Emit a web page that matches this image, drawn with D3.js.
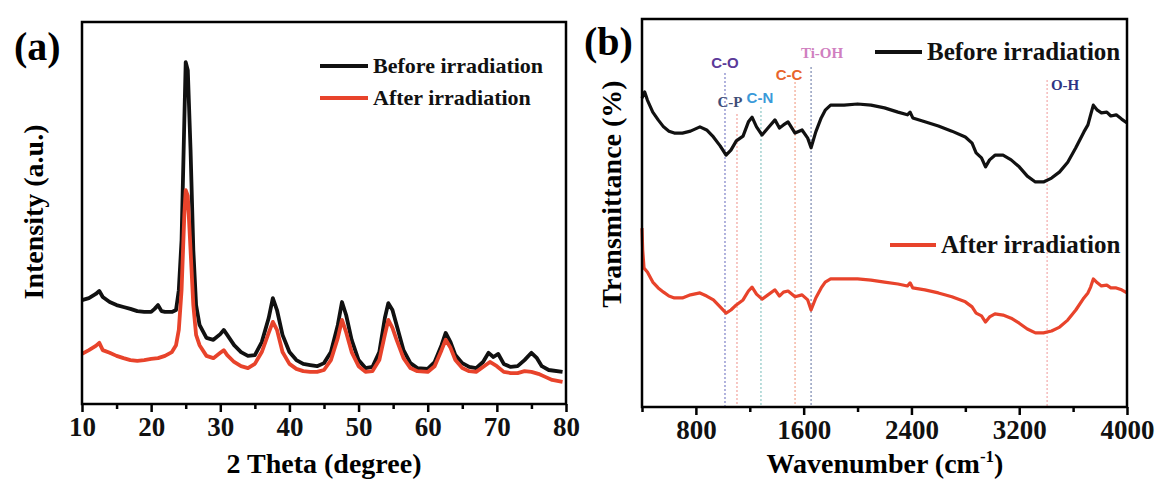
<!DOCTYPE html>
<html>
<head>
    <meta charset="utf-8">
    <script src="https://cdnjs.cloudflare.com/ajax/libs/d3/7.8.5/d3.min.js"></script>
    <style>
        body { margin: 0; background: #ffffff; }
        svg { display: block; }
        .serif { font-family: "Times New Roman", "Liberation Serif", serif; font-weight: bold; }
        .axis path, .axis line { stroke: #000; stroke-width: 2.5px; }
        .axis text { font-family: "Times New Roman", "Liberation Serif", serif; font-weight: bold; font-size: 27px; fill: #111; }
    </style>
    <title>XRD and FTIR</title>
</head>
<body>
<script>
    // ---------- (a) XRD data: [2 theta, intensity a.u.] ----------
    var xrdBefore = [
        [10, 27.2], [11, 27.7], [12, 28.8], [12.5, 29.6], [13, 28.0], [14, 26.7], [15, 25.9], [16, 25.4],
        [17, 24.9], [18, 24.3], [19, 24.1], [20, 24.1], [20.5, 24.9], [21, 25.9], [21.5, 24.3], [22, 24.1],
        [23, 24.1], [23.6, 24.6], [24.0, 29.8], [24.4, 42.9], [24.8, 74.3], [25.0, 89.5], [25.3, 87.4],
        [25.7, 66.5], [26.1, 40.3], [26.5, 25.9], [27, 20.7], [28, 17.3], [29, 16.8], [30, 18.3], [30.5, 19.4],
        [31, 18.1], [32, 15.4], [33, 13.6], [34, 12.6], [35, 12.8], [36, 16.2], [37, 22.5], [37.6, 27.7],
        [38.2, 24.6], [39, 18.1], [40, 13.6], [41, 11.5], [42, 10.5], [43, 10.2], [44, 9.9], [45, 10.7],
        [46, 13.6], [47, 20.7], [47.6, 26.7], [48.2, 23.3], [49, 16.8], [50, 11.5], [51, 9.4], [52, 9.7],
        [53, 13.6], [53.8, 22.5], [54.3, 26.4], [54.9, 24.6], [55.5, 20.7], [56.5, 14.1], [57.5, 10.7],
        [58.5, 9.4], [60, 9.2], [61, 11.0], [62, 15.4], [62.6, 18.6], [63.3, 16.2], [64, 12.8], [65, 10.7],
        [66, 9.7], [67, 9.4], [68, 11.0], [68.8, 13.4], [69.5, 12.3], [70.2, 13.1], [71, 10.5], [72, 9.7],
        [73, 9.9], [74, 11.5], [75, 13.4], [75.8, 12.0], [76.5, 9.9], [77.5, 8.9], [79.5, 8.4]
    ];
    var xrdAfter = [
        [10, 13.1], [11, 14.1], [12, 15.2], [12.5, 16.0], [13, 14.1], [14, 13.4], [15, 12.6], [16, 12.0],
        [17, 11.5], [18, 11.3], [19, 11.5], [20, 11.8], [21, 12.0], [22, 12.6], [23, 13.6], [23.6, 15.4],
        [24.0, 19.4], [24.4, 29.8], [24.8, 49.5], [25.0, 56.0], [25.3, 54.5], [25.7, 40.3], [26.1, 25.9],
        [26.5, 18.1], [27, 15.4], [28, 12.6], [29, 12.0], [30, 13.4], [30.5, 14.1], [31, 12.8], [32, 11.0],
        [33, 9.9], [34, 9.4], [35, 10.5], [36, 13.6], [37, 18.6], [37.6, 21.5], [38.2, 19.4], [39, 13.6],
        [40, 10.5], [41, 9.2], [42, 8.6], [43, 8.4], [44, 8.4], [45, 8.9], [46, 11.5], [47, 17.3], [47.6, 22.0],
        [48.2, 18.8], [49, 13.6], [50, 9.9], [51, 8.4], [52, 8.6], [53, 11.5], [53.8, 18.1], [54.3, 22.0],
        [54.9, 19.9], [55.5, 16.8], [56.5, 12.0], [57.5, 9.4], [58.5, 8.6], [60, 8.4], [61, 9.9], [62, 14.1],
        [62.6, 16.8], [63.3, 14.7], [64, 11.5], [65, 9.4], [66, 8.6], [67, 8.4], [68, 9.7], [69, 11.0],
        [70, 9.9], [71, 8.4], [72, 8.1], [73, 8.1], [74, 8.6], [75, 8.4], [76, 7.9], [77, 7.1], [78, 6.3],
        [79.5, 5.8]
    ];
    var xrdTicks = [10, 20, 30, 40, 50, 60, 70, 80];
    var xrdMinorTicks = [15, 25, 35, 45, 55, 65, 75];

    // ---------- (b) FTIR data: [wavenumber, transmittance a.u.] ----------
    var ftirBefore = [
        [400, 79.6], [420, 81.2], [440, 79.1], [480, 76.0], [520, 74.0], [560, 72.2], [600, 71.1], [640, 70.6],
        [700, 70.6], [760, 71.1], [830, 72.2], [880, 71.4], [930, 69.6], [980, 67.3], [1024, 64.9], [1060, 66.2],
        [1100, 68.6], [1150, 69.8], [1190, 73.5], [1217, 74.7], [1250, 72.2], [1291, 70.1], [1335, 71.9],
        [1387, 74.0], [1420, 71.9], [1450, 72.7], [1484, 73.5], [1536, 70.6], [1588, 71.4], [1630, 69.3],
        [1655, 66.8], [1690, 70.9], [1730, 74.5], [1760, 76.5], [1800, 77.8], [1900, 77.8], [2000, 78.1],
        [2100, 77.8], [2200, 77.1], [2300, 76.0], [2370, 75.3], [2390, 76.0], [2410, 74.5], [2500, 73.5],
        [2600, 72.4], [2700, 71.1], [2800, 69.6], [2850, 68.0], [2880, 65.5], [2920, 64.2], [2950, 61.9],
        [2980, 63.7], [3020, 64.9], [3080, 64.9], [3140, 63.7], [3200, 61.9], [3260, 59.5], [3320, 58.0],
        [3380, 58.0], [3440, 59.0], [3500, 60.6], [3560, 63.1], [3620, 66.8], [3680, 70.9], [3710, 72.7],
        [3730, 75.3], [3750, 77.8], [3780, 76.5], [3810, 75.8], [3850, 76.0], [3880, 75.0], [3920, 75.3],
        [3960, 74.2], [4000, 73.2]
    ];
    var ftirAfter = [
        [400, 46.1], [405, 40.5], [415, 35.8], [440, 34.8], [480, 32.2], [520, 30.7], [560, 29.6], [600, 28.6],
        [640, 28.1], [700, 28.1], [760, 28.9], [830, 29.4], [880, 28.6], [930, 27.6], [980, 25.8], [1024, 24.2],
        [1060, 25.0], [1100, 26.3], [1150, 27.6], [1190, 29.9], [1217, 30.9], [1250, 29.1], [1291, 27.8],
        [1335, 28.9], [1387, 30.2], [1420, 28.6], [1450, 29.6], [1484, 29.9], [1536, 28.4], [1588, 28.9],
        [1630, 27.6], [1655, 25.0], [1690, 28.1], [1730, 30.7], [1760, 32.2], [1800, 33.0], [1900, 33.0],
        [2000, 33.0], [2100, 32.7], [2200, 32.2], [2300, 31.7], [2370, 31.2], [2390, 32.0], [2410, 30.7],
        [2500, 30.2], [2600, 29.4], [2700, 28.4], [2800, 27.1], [2850, 25.8], [2880, 24.2], [2920, 23.5],
        [2950, 21.9], [2980, 23.2], [3020, 24.0], [3080, 23.7], [3140, 22.9], [3200, 21.6], [3260, 20.1],
        [3320, 19.1], [3380, 19.1], [3440, 19.6], [3500, 20.6], [3560, 22.4], [3620, 25.0], [3680, 28.1],
        [3710, 29.4], [3730, 30.9], [3750, 33.0], [3780, 32.0], [3810, 31.2], [3850, 31.4], [3880, 30.7],
        [3920, 30.7], [3960, 30.2], [4000, 29.4]
    ];
    var ftirTicks = [800, 1600, 2400, 3200, 4000];
    var ftirMinorTicks = [400, 1200, 2000, 2800, 3600];

    // band assignments (name, wavenumber)
    var bandNames = ["C-O", "C-P", "C-N", "C-C", "Ti-OH", "O-H"];
    var bandWavenumbers = [1016, 1105, 1283, 1536, 1655, 3407];

    var seriesNames = ["Before irradiation", "After irradiation"];

    // ---------- styles ----------
    var black = "#111111", red = "#e8432b";
    var bandStyle = {
        "C-O":   {text: "#5b3a99", line: "#7d80c8", dx: 0,  ty: 68,  ly: 73,  font: "sans"},
        "C-P":   {text: "#3f4d78", line: "#f2a39c", dx: -7, ty: 107, ly: 114, font: "serif"},
        "C-N":   {text: "#3a9ad9", line: "#8cc8c4", dx: -1, ty: 103, ly: 107, font: "sans"},
        "C-C":   {text: "#e8642c", line: "#f2a48e", dx: -6, ty: 80,  ly: 82,  font: "sans"},
        "Ti-OH": {text: "#d07fc0", line: "#7a88b0", dx: 11, ty: 58,  ly: 67,  font: "serif"},
        "O-H":   {text: "#2e3585", line: "#f2aaaa", dx: 18, ty: 90,  ly: 80,  font: "serif"}
    };

    var svg = d3.select("body").append("svg")
        .attr("width", 1158)
        .attr("height", 479);

    function drawPanel(opt) {
        var x = d3.scaleLinear().domain(opt.xDomain).range(opt.xRange);
        var y = d3.scaleLinear().domain([0, 100]).range(opt.yRange);
        var g = svg.append("g");

        if (opt.before) opt.before(g, x, y);

        var line = d3.line().x(d => x(d[0])).y(d => y(d[1]));
        opt.series.forEach(function (s) {
            g.append("path")
                .datum(s.data)
                .attr("fill", "none")
                .attr("stroke", s.color)
                .attr("stroke-width", opt.lineWidth)
                .attr("stroke-linejoin", "round")
                .attr("d", line);
        });

        // frame
        g.append("rect")
            .attr("x", opt.xRange[0]).attr("y", opt.yRange[1])
            .attr("width", opt.xRange[1] - opt.xRange[0])
            .attr("height", opt.yRange[0] - opt.yRange[1])
            .attr("fill", "none").attr("stroke", "#000").attr("stroke-width", 2.5);

        // x axis, major + minor ticks
        g.append("g").attr("class", "axis")
            .attr("transform", "translate(0," + opt.yRange[0] + ")")
            .call(d3.axisBottom(x).tickValues(opt.ticks).tickSize(8).tickPadding(5).tickFormat(d3.format("d")))
            .call(a => a.select(".domain").remove());
        g.append("g").attr("class", "axis")
            .attr("transform", "translate(0," + opt.yRange[0] + ")")
            .call(d3.axisBottom(x).tickValues(opt.minorTicks).tickSize(5).tickFormat(""))
            .call(a => a.select(".domain").remove());

        return {g: g, x: x, y: y};
    }

    // ---------- panel (a) ----------
    var pa = drawPanel({
        xDomain: [10, 80], xRange: [82, 566], yRange: [404, 22],
        ticks: xrdTicks, minorTicks: xrdMinorTicks, lineWidth: 3.8,
        series: [{data: xrdBefore, color: black}, {data: xrdAfter, color: red}]
    });

    // ---------- panel (b) ----------
    var pb = drawPanel({
        xDomain: [400, 4000], xRange: [642, 1127], yRange: [407, 19],
        ticks: ftirTicks, minorTicks: ftirMinorTicks, lineWidth: 3.2,
        series: [{data: ftirBefore, color: black}, {data: ftirAfter, color: red}],
        before: function (g, x, y) {
            bandNames.forEach(function (name, i) {
                var st = bandStyle[name];
                g.append("line")
                    .attr("x1", x(bandWavenumbers[i])).attr("x2", x(bandWavenumbers[i]))
                    .attr("y1", st.ly).attr("y2", y(0))
                    .attr("stroke", st.line).attr("stroke-width", 1.2)
                    .attr("stroke-dasharray", "2,2");
                g.append("text")
                    .attr("x", x(bandWavenumbers[i]) + st.dx)
                    .attr("y", st.ty)
                    .attr("text-anchor", "middle")
                    .attr("font-family", st.font === "sans" ? "Arial, 'Liberation Sans', sans-serif" : "'Times New Roman', 'Liberation Serif', serif")
                    .attr("font-weight", "bold")
                    .attr("font-size", 15)
                    .attr("fill", st.text)
                    .text(name);
            });
        }
    });

    // ---------- legends ----------
    function legendItem(x1, x2, yl, color, label, size) {
        svg.append("line")
            .attr("x1", x1).attr("x2", x2).attr("y1", yl).attr("y2", yl)
            .attr("stroke", color).attr("stroke-width", 4);
        svg.append("text").attr("class", "serif")
            .attr("x", x2 + 5).attr("y", yl + size * 0.33)
            .attr("font-size", size).attr("fill", "#111")
            .text(label);
    }
    legendItem(320, 368, 66, black, seriesNames[0], 22);
    legendItem(320, 368, 98, red, seriesNames[1], 22);
    legendItem(875, 922, 52, black, seriesNames[0], 25);
    legendItem(890, 936, 245, red, seriesNames[1], 25);

    // ---------- titles ----------
    svg.append("text").attr("class", "serif").attr("x", 14).attr("y", 60)
        .attr("font-size", 40).text("(a)");
    svg.append("text").attr("class", "serif").attr("x", 584).attr("y", 55)
        .attr("font-size", 40).text("(b)");

    svg.append("text").attr("class", "serif")
        .attr("x", 324).attr("y", 473).attr("text-anchor", "middle")
        .attr("font-size", 28).text("2 Theta (degree)");

    var wn = svg.append("text").attr("class", "serif")
        .attr("x", 885).attr("y", 473).attr("text-anchor", "middle")
        .attr("font-size", 28);
    wn.append("tspan").text("Wavenumber (cm");
    wn.append("tspan").attr("dy", -11).attr("font-size", 17).text("-1");
    wn.append("tspan").attr("dy", 11).text(")");

    svg.append("text").attr("class", "serif")
        .attr("transform", "translate(43,212) rotate(-90)")
        .attr("text-anchor", "middle").attr("font-size", 28)
        .text("Intensity (a.u.)");
    svg.append("text").attr("class", "serif")
        .attr("transform", "translate(621,194) rotate(-90)")
        .attr("text-anchor", "middle").attr("font-size", 28)
        .text("Transmittance (%)");
</script>
</body>
</html>
